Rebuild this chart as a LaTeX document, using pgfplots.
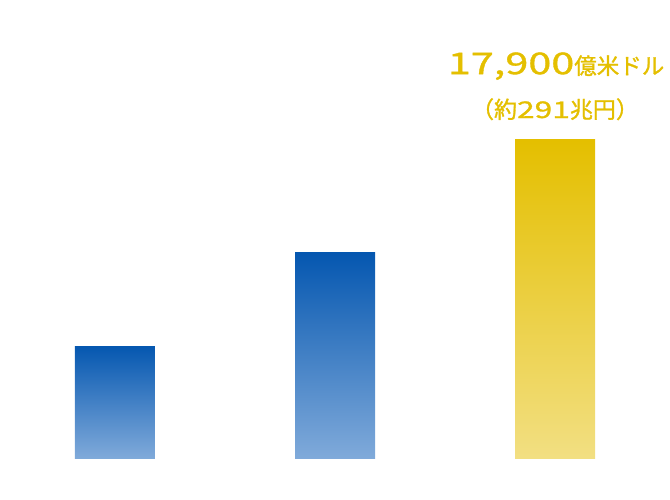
\documentclass[border=0pt]{standalone}
\usepackage{pgfplots}
\pgfplotsset{compat=1.18}
\usepackage{fontspec}
\setmainfont{Noto Sans CJK JP}
\newfontfamily\labfont{Noto Sans CJK JP}[FakeBold=1.2]
\newfontfamily\numfont{Noto Sans CJK JP}[FakeStretch=1.38, FakeBold=1.2]
\definecolor{bluetop}{HTML}{0557B0}
\definecolor{bluebot}{HTML}{80AADA}
\definecolor{goldtop}{HTML}{E4BF00}
\definecolor{goldbot}{HTML}{F2DF82}
\begin{document}
\begin{tikzpicture}
\begin{axis}[
  scale only axis,
  width=670pt, height=500pt,
  xmin=-0.5227, xmax=2.5227,
  ymin=-2332, ymax=25768,
  hide axis,
  ybar, bar width=80pt, bar shift=0pt,
  clip=false,
]
\addplot[draw=none, top color=bluetop, bottom color=bluebot]
  coordinates {(0,6322)};
\addplot[draw=none, top color=bluetop, bottom color=bluebot]
  coordinates {(1,11550)};
\addplot[draw=none, top color=goldtop, bottom color=goldbot]
  coordinates {(2,17900)};
\node[text=goldtop, anchor=base, inner sep=0pt] at (axis cs:2.005,21600)
  {\fontsize{30}{31}\selectfont{\numfont 17,900}\labfont\fontsize{22.5}{24}\selectfont 億米ドル};
\node[text=goldtop, anchor=base, inner sep=0pt] at (axis cs:2,19136)
  {\labfont\fontsize{23}{25}\selectfont （約{\numfont 291}兆円）};
\path (rel axis cs:0,0) rectangle (rel axis cs:1,1);
\end{axis}
\end{tikzpicture}
\end{document}
